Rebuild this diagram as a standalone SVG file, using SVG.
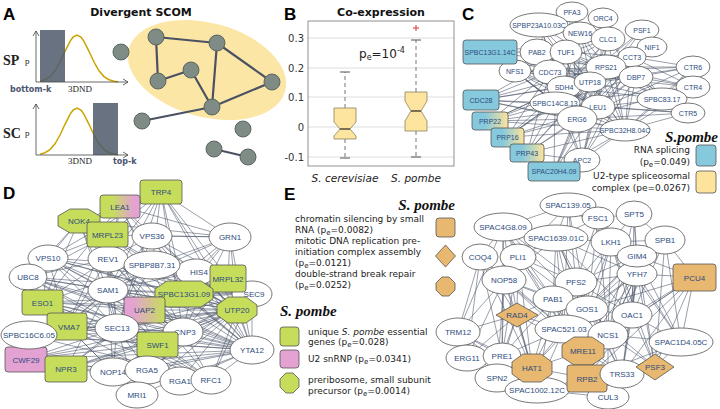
<svg xmlns="http://www.w3.org/2000/svg" width="720" height="409" viewBox="0 0 720 409">
<defs>
<style>
.lbl{font-family:"Liberation Sans",Arial,sans-serif;font-weight:bold;font-size:17px;fill:#000}
.ttl{font-family:"DejaVu Sans",sans-serif;font-weight:bold;font-size:11px;fill:#111;text-anchor:middle}
.ed{fill:none;stroke:#4b566a;stroke-width:.75;stroke-opacity:.75}
.edA{fill:none;stroke:#4a5163;stroke-width:2.2}
.an{fill:#7f8b85;stroke:#5c6660;stroke-width:1}
.el{fill:#fff;stroke:#555;stroke-width:.8}
.bx{stroke:#555;stroke-width:.8}
.bl{fill:#86c9dc}
.gr{fill:#c6dd5c}
.pk{fill:#e3a2d2}
.or{fill:#e8b870}
.ye{fill:#fde39c}
.nt{font-family:"Liberation Sans",Arial,sans-serif;fill:#2d4b7d;text-anchor:middle}
.s7{font-size:7px}
.s8{font-size:8px}
.lg{font-family:"DejaVu Sans",sans-serif;font-size:9px;fill:#222}
.sp{font-family:"Liberation Serif","Times New Roman",serif;font-weight:bold;font-style:italic;font-size:15px;fill:#111}
.ax{font-family:"DejaVu Sans",sans-serif;font-size:10px;fill:#333}
.sr{font-family:"Liberation Serif","Times New Roman",serif;fill:#222}
.kl{font-family:"DejaVu Sans",sans-serif;font-weight:bold;font-size:8px;fill:#4b5670}
.axl{fill:none;stroke:#444;stroke-width:.8}
.cv{fill:none;stroke:#c9a400;stroke-width:1.5}
.bar{fill:#4f596b;fill-opacity:.85}
.grid{stroke:#d4d4d4;stroke-width:.8}
.bp{fill:#fde5a0;stroke:#8a8060;stroke-width:.8}
.wh{stroke:#777;stroke-width:1;stroke-dasharray:4 3}
.cap{stroke:#555;stroke-width:1}
.med{stroke:#4d4d3a;stroke-width:1.6}
</style>
<linearGradient id="gBY" x1="0" y1="0" x2="1" y2="0"><stop offset="0.35" stop-color="#86c9dc"/><stop offset="1" stop-color="#fde39c"/></linearGradient>
<linearGradient id="gGP" x1="0" y1="0" x2="1" y2="0"><stop offset="0.3" stop-color="#c6dd5c"/><stop offset="0.85" stop-color="#e3a2d2"/></linearGradient>
<linearGradient id="gPG" x1="0" y1="0" x2="1" y2="0"><stop offset="0.2" stop-color="#e3a2d2"/><stop offset="1" stop-color="#c6dd5c"/></linearGradient>
</defs>
<rect width="720" height="409" fill="#fff"/>

<!-- Panel labels and titles -->
<text class="lbl" x="3" y="20">A</text>
<text class="lbl" x="284" y="20">B</text>
<text class="lbl" x="462" y="20">C</text>
<text class="lbl" x="3" y="199">D</text>
<text class="lbl" x="284" y="200">E</text>
<text class="ttl" x="141" y="16">Divergent SCOM</text>
<text class="ttl" x="381" y="16">Co-expression</text>

<!-- Panel A charts -->
<g id="chartSP">
<text class="sr" x="3" y="65" font-size="14" font-weight="bold">SP</text>
<text class="sr" x="25" y="64" font-size="9">p</text>
<polyline class="cv" points="40,81.2 45,79.7 50,76.6 55,70.8 60,62 65,51.3 70,41.3 73,37.2 77,35 81,37.2 84,41.3 89,51.3 94,62 99,70.8 104,76.6 109,79.7 114,81.2 118,81.7"/>
<rect class="bar" x="40" y="30" width="25" height="52"/>
<path class="axl" d="M36 82V31M33 36L36 31L39 36M36 82H128M123 79L128 82L123 85"/>
<text class="kl" x="10" y="92">bottom-k</text>
<text class="sr" x="68" y="92" font-size="9">3DND</text>
</g>
<g id="chartSC">
<text class="sr" x="3" y="138" font-size="14" font-weight="bold">SC</text>
<text class="sr" x="25" y="136" font-size="9">p</text>
<polyline class="cv" points="40,154.2 45,152.7 50,149.6 55,143.8 60,135 65,124.3 70,114.3 73,110.2 77,108 81,110.2 84,114.3 89,124.3 94,135 99,143.8 104,149.6 109,152.7 114,154.2 118,154.7"/>
<rect class="bar" x="93" y="103" width="25" height="52"/>
<path class="axl" d="M36 155V104M33 109L36 104L39 109M36 155H128M123 152L128 155L123 158"/>
<text class="sr" x="68" y="164" font-size="9">3DND</text>
<text class="kl" x="113" y="164">top-k</text>
</g>
<ellipse cx="207" cy="70" rx="81" ry="47" transform="rotate(15 207 70)" fill="#fbe6a6"/>

<!-- Panel B -->
<g id="boxplot">
<path class="grid" d="M308 38H454M308 68H454M308 97H454M308 127H454M308 157H454"/>
<rect x="308" y="21" width="146" height="145" fill="none" stroke="#777" stroke-width=".8"/>
<g class="ax" text-anchor="end">
<text x="304" y="42">0.3</text><text x="304" y="72">0.2</text><text x="304" y="101">0.1</text><text x="304" y="131">0</text><text x="304" y="161">-0.1</text>
</g>
<path class="wh" d="M345 108V72M345 139V158M416 92V40M416 131V157"/>
<path class="cap" d="M340 72H350M340 158H350M411 40H421M411 157H421"/>
<path class="bp" d="M334 108H356V122L350 129L356 136V139H334V136L340 129L334 122Z"/>
<path class="bp" d="M405 92H427V101L421 111L427 121V131H405V121L411 111L405 101Z"/>
<path class="med" d="M340 129H350M411 111H421"/>
<path d="M413 28H419M416 25V31" stroke="#e03030" stroke-width="1"/>
<text x="359" y="58" font-family="DejaVu Sans,sans-serif" font-size="12" fill="#222">p<tspan font-size="8" dy="2">e</tspan><tspan dy="-2">=10</tspan><tspan font-size="8" dy="-5">-4</tspan></text>
<text x="345" y="182" font-family="DejaVu Sans,sans-serif" font-size="10.5" font-style="italic" fill="#222" text-anchor="middle">S. cerevisiae</text>
<text x="416" y="182" font-family="DejaVu Sans,sans-serif" font-size="10.5" font-style="italic" fill="#222" text-anchor="middle">S. pombe</text>
</g>

<!-- Connectors -->
<g id="connectors">
<path class="edA" d="M156 37L217 43M156 37L158 81M158 81L191 70M191 70L212 107M217 43L212 107M217 43L272 82M212 107L272 82M142 121L212 107M214 149L248 157"/>
<path class="ed" d="M490 52L566 52M490 52L550 72M490 52L606 67M490 52L564 87M490 52L555 103M490 52L577 119M481 100L550 72M481 100L564 87M481 100L555 103M481 100L577 119M481 100L606 67M481 100L566 52M490 121L550 72M490 121L555 103M490 121L577 119M490 121L564 87M490 121L598 107M507 137L555 103M507 137L577 119M507 137L564 87M507 137L550 72M507 137L598 107M527 153L555 103M527 153L577 119M527 153L598 107M527 153L606 67M527 153L582 160M554 171L577 119M554 171L582 160M554 171L555 103M554 171L598 107M515 71L606 67M515 71L590 82M515 71L555 103M515 71L577 119M515 71L608 39M537 52L606 67M537 52L590 82M537 52L598 107M537 52L577 119M550 72L608 39M550 72L606 67M550 72L598 107M550 72L577 119M550 72L636 77M550 72L625 130M566 52L606 67M566 52L590 82M566 52L598 107M566 52L632 57M566 52L662 99M539 25L550 72M539 25L606 67M539 25L564 87M539 25L566 52M580 33L606 67M580 33L564 87M580 33L555 103M580 33L577 119M608 39L564 87M608 39L555 103M608 39L577 119M608 39L625 130M606 67L577 119M606 67L555 103M606 67L662 99M606 67L625 130M590 82L555 103M590 82L577 119M590 82L625 130M590 82L662 99M564 87L598 107M564 87L636 77M564 87L662 99M555 103L625 130M555 103L636 77M555 103L632 57M598 107L636 77M598 107L632 57M598 107L662 99M577 119L636 77M577 119L632 57M577 119L625 130M636 77L693 67M636 77L693 87M636 77L688 113M632 57L693 67M632 57L693 87M662 99L693 67M662 99L693 87M625 130L693 67M625 130L693 87M625 130L688 113M606 67L693 67M606 67L693 87M598 107L688 113M577 119L688 113M590 82L693 67M555 103L688 113M550 72L693 87M642 30L606 67M642 30L577 119M642 30L555 103M652 47L598 107M652 47L564 87M652 47L577 119M572 12L577 119M572 12L555 103M603 18L606 67M603 18L598 107M582 160L550 72M582 160L606 67M582 160L608 39M582 160L636 77M582 160L632 57"/>
<path class="ed" d="M490 52L598 107M490 52L590 82M490 52L608 39M481 100L598 107M481 100L590 82M481 100L625 130M490 121L606 67M490 121L590 82M490 121L625 130M507 137L606 67M507 137L590 82M507 137L625 130M527 153L590 82M527 153L625 130M527 153L550 72M554 171L625 130M554 171L606 67M554 171L590 82M515 71L598 107M515 71L625 130M537 52L555 103M537 52L636 77M539 25L598 107M539 25L577 119M580 33L598 107M580 33L625 130M608 39L662 99M608 39L636 77M632 57L625 130M632 57L662 99M636 77L662 99M636 77L625 130M662 99L688 113M550 72L693 67M555 103L693 87M577 119L693 67M577 119L693 87M625 130L662 99M582 160L555 103M582 160L598 107M582 160L625 130M582 160L577 119M566 52L555 103M566 52L577 119M566 52L625 130M564 87L625 130M564 87L577 119M550 72L555 103M550 72L564 87M606 67L598 107M606 67L590 82M606 67L636 77M537 52L550 72M515 71L550 72M515 71L564 87"/>
<path class="ed" d="M161 192L79 221M161 192L108 235M161 192L108 259M161 192L152 265M161 192L108 290M161 192L48 258M161 192L230 237M161 192L184 294M161 192L117 328M161 192L228 278M120 206L108 259M120 206L108 290M120 206L230 237M120 206L152 265M120 206L43 302M79 221L48 258M79 221L28 277M79 221L108 290M79 221L108 259M79 221L117 328M79 221L43 302M79 221L230 237M108 235L48 258M108 235L108 290M108 235L230 237M108 235L28 277M108 235L117 328M108 235L67 326M152 236L108 259M152 236L230 237M152 236L108 290M152 236L117 328M152 236L228 278M152 236L184 294M48 258L108 290M48 258L117 328M48 258L152 265M48 258L184 294M48 258L43 302M48 258L67 326M108 259L108 290M108 259L117 328M108 259L184 294M108 259L43 302M108 259L67 326M108 259L183 332M108 259L28 277M152 265L108 290M152 265L117 328M152 265L67 326M152 265L43 302M152 265L230 237M152 265L252 294M196 272L230 237M196 272L108 290M196 272L117 328M196 272L252 294M230 237L228 278M230 237L108 290M230 237L117 328M230 237L184 294M230 237L237 310M230 237L252 350M230 237L183 332M28 277L108 290M28 277L117 328M28 277L67 326M28 277L157 344M28 277L145 310M108 290L117 328M108 290L157 344M108 290L67 326M108 290L183 332M108 290L184 294M108 290L66 369M108 290L113 372M184 294L117 328M184 294L237 310M184 294L252 294M184 294L252 350M228 278L117 328M228 278L237 310M228 278L252 350M228 278L183 332M252 294L252 350M252 294L183 332M237 310L183 332M237 310L252 350M237 310L211 380M43 302L117 328M43 302L157 344M43 302L145 310M43 302L113 372M145 310L183 332M145 310L252 350M145 310L237 310M145 310L117 328M67 326L117 328M67 326L157 344M67 326L113 372M67 326L147 370M67 326L183 332M28 335L117 328M28 335L157 344M28 335L108 290M28 335L145 310M117 328L183 332M117 328L113 372M117 328L147 370M117 328L180 381M117 328L211 380M117 328L252 350M117 328L237 310M183 332L252 350M183 332L211 380M183 332L113 372M157 344L252 350M157 344L237 310M157 344L211 380M26 359L117 328M26 359L157 344M26 359L108 290M66 369L117 328M66 369L183 332M66 369L157 344M66 369L147 370M66 369L145 310M113 372L252 350M113 372L157 344M147 370L252 350M147 370L237 310M180 381L252 350M137 395L183 332M137 395L117 328M211 380L252 350M211 380L252 294M48 258L183 332M28 277L183 332M79 221L157 344M108 235L145 310M161 192L252 350M152 236L252 350M120 206L237 310"/>
<path class="ed" d="M79 221L183 332M79 221L237 310M48 258L237 310M48 258L252 350M28 277L237 310M28 277L252 350M43 302L237 310M43 302L252 350M43 302L183 332M28 335L237 310M28 335L183 332M28 335L252 350M26 359L183 332M26 359L252 350M26 359L237 310M66 369L252 350M66 369L237 310M67 326L237 310M67 326L252 350M108 290L237 310M108 290L252 350M108 290L252 294M108 259L237 310M108 259L252 350M152 265L237 310M152 265L252 350M108 235L237 310M108 235L183 332M48 258L252 294M28 277L252 294M43 302L252 294M120 206L183 332M161 192L183 332M161 192L237 310M152 236L237 310M196 272L237 310M196 272L183 332M196 272L252 350M117 328L252 294M157 344L252 294M113 372L237 310M147 370L252 294M180 381L237 310M137 395L237 310M137 395L252 350M113 372L211 380M67 326L211 380M66 369L211 380M26 359L211 380M43 302L211 380M28 335L211 380M48 258L211 380M79 221L211 380M108 235L252 350M120 206L252 350"/>
<path class="ed" d="M568 205L556 238M568 205L611 242M568 205L503 227M568 205L598 218M568 205L518 257M568 205L576 282M598 218L556 238M598 218L611 242M598 218L634 214M598 218L637 256M598 218L576 282M634 214L611 242M634 214L665 240M634 214L637 256M634 214L637 274M503 227L518 257M503 227L480 257M503 227L504 280M503 227L576 282M503 227L553 299M503 227L517 315M556 238L518 257M556 238L504 280M556 238L576 282M556 238L553 299M556 238L611 242M556 238L587 309M556 238L637 274M556 238L564 329M611 242L637 256M611 242L637 274M611 242L576 282M611 242L587 309M611 242L564 329M611 242L608 335M611 242L665 240M665 240L637 256M665 240L637 274M665 240L694 277M665 240L632 315M665 240L681 342M480 257L504 280M480 257L458 332M480 257L517 315M480 257L502 356M518 257L504 280M518 257L576 282M518 257L553 299M518 257L517 315M518 257L564 329M518 257L502 356M637 256L694 277M637 256L576 282M637 256L587 309M637 256L632 315M637 256L608 335M637 256L681 342M637 256L564 329M637 274L694 277M637 274L587 309M637 274L632 315M637 274L608 335M637 274L681 342M637 274L655 367M637 274L576 282M637 274L564 329M637 274L583 351M694 277L632 315M694 277L681 342M694 277L655 367M694 277L608 335M694 277L622 374M694 277L587 309M504 280L517 315M504 280L553 299M504 280L458 332M504 280L502 356M504 280L564 329M504 280L587 309M504 280L467 358M576 282L553 299M576 282L587 309M576 282L564 329M576 282L608 335M576 282L583 351M576 282L632 315M576 282L587 378M553 299L517 315M553 299L564 329M553 299L502 356M553 299L532 368M553 299L587 309M587 309L564 329M587 309L608 335M587 309L583 351M587 309L632 315M587 309L587 378M587 309L622 374M517 315L458 332M517 315L502 356M517 315L564 329M517 315L532 368M517 315L467 358M517 315L497 378M632 315L608 335M632 315L681 342M632 315L655 367M632 315L583 351M632 315L622 374M458 332L467 358M458 332L502 356M458 332L497 378M458 332L532 368M564 329L608 335M564 329L502 356M564 329L583 351M564 329L532 368M564 329L587 378M564 329L537 390M608 335L583 351M608 335L655 367M608 335L587 378M608 335L622 374M608 335L681 342M681 342L655 367M681 342L622 374M467 358L502 356M467 358L497 378M502 356L532 368M502 356L497 378M502 356L537 390M583 351L532 368M583 351L587 378M583 351L622 374M532 368L497 378M532 368L537 390M532 368L587 378M655 367L622 374M655 367L587 378M587 378L622 374M587 378L608 397M587 378L537 390M622 374L608 397M537 390L608 397"/>
<path class="ed" d="M503 227L564 329M503 227L587 309M503 227L502 356M503 227L458 332M480 257L532 368M480 257L467 358M480 257L564 329M518 257L532 368M518 257L587 309M504 280L532 368M504 280L497 378M504 280L583 351M556 238L583 351M556 238L632 315M556 238L608 335M611 242L632 315M611 242L583 351M611 242L681 342M611 242L655 367M637 256L655 367M637 256L583 351M637 256L622 374M637 274L622 374M637 274L587 378M694 277L583 351M694 277L587 378M665 240L655 367M665 240L608 335M665 240L587 309M634 214L632 315M634 214L608 335M568 205L587 309M568 205L564 329M598 218L587 309M598 218L608 335M576 282L622 374M576 282L532 368M553 299L583 351M553 299L587 378M553 299L537 390M587 309L655 367M587 309L532 368M517 315L537 390M517 315L583 351M458 332L537 390M608 335L608 397M583 351L608 397M632 315L587 378M564 329L622 374M681 342L587 378"/>
</g>

<!-- Panel A network nodes -->
<g id="A-nodes">
<circle class="an" cx="156" cy="37" r="8"/>
<circle class="an" cx="217" cy="43" r="8"/>
<circle class="an" cx="121" cy="52" r="8"/>
<circle class="an" cx="191" cy="70" r="8"/>
<circle class="an" cx="158" cy="81" r="8"/>
<circle class="an" cx="212" cy="107" r="8"/>
<circle class="an" cx="142" cy="121" r="8"/>
<circle class="an" cx="214" cy="149" r="8"/>
<circle class="an" cx="272" cy="82" r="8"/>
<circle class="an" cx="243" cy="129" r="8"/>
<circle class="an" cx="248" cy="157" r="8"/>
</g>

<!-- Panel C nodes -->
<g id="C-PFA3"><ellipse class="el" cx="572" cy="12" rx="16" ry="10"/><text class="nt s7" x="572" y="14.5">PFA3</text></g>
<g id="C-ORC4"><ellipse class="el" cx="603" cy="18" rx="15" ry="10"/><text class="nt s7" x="603" y="20.5">ORC4</text></g>
<g id="C-SPBP23A10.03C"><ellipse class="el" cx="539" cy="25" rx="29" ry="12"/><text class="nt s7" x="539" y="27.5">SPBP23A10.03C</text></g>
<g id="C-NEW16"><ellipse class="el" cx="580" cy="33" rx="17" ry="11"/><text class="nt s7" x="580" y="35.5">NEW16</text></g>
<g id="C-PSF1"><ellipse class="el" cx="642" cy="30" rx="17" ry="10"/><text class="nt s7" x="642" y="32.5">PSF1</text></g>
<g id="C-CLC1"><ellipse class="el" cx="608" cy="39" rx="17" ry="12"/><text class="nt s7" x="608" y="41.5">CLC1</text></g>
<g id="C-NIF1"><ellipse class="el" cx="652" cy="47" rx="15" ry="10"/><text class="nt s7" x="652" y="49.5">NIF1</text></g>
<g id="C-PAB2"><ellipse class="el" cx="537" cy="52" rx="17" ry="13"/><text class="nt s7" x="537" y="54.5">PAB2</text></g>
<g id="C-TUF1"><ellipse class="el" cx="566" cy="52" rx="16" ry="12"/><text class="nt s7" x="566" y="54.5">TUF1</text></g>
<g id="C-CCT3"><ellipse class="el" cx="632" cy="57" rx="14" ry="10"/><text class="nt s7" x="632" y="59.5">CCT3</text></g>
<g id="C-CTR6"><ellipse class="el" cx="693" cy="67" rx="17" ry="11"/><text class="nt s7" x="693" y="69.5">CTR6</text></g>
<g id="C-NFS1"><ellipse class="el" cx="515" cy="71" rx="16" ry="11"/><text class="nt s7" x="515" y="73.5">NFS1</text></g>
<g id="C-CDC73"><ellipse class="el" cx="550" cy="72" rx="17" ry="12"/><text class="nt s7" x="550" y="74.5">CDC73</text></g>
<g id="C-RPS21"><ellipse class="el" cx="606" cy="67" rx="20" ry="12"/><text class="nt s7" x="606" y="69.5">RPS21</text></g>
<g id="C-DBP7"><ellipse class="el" cx="636" cy="77" rx="17" ry="11"/><text class="nt s7" x="636" y="79.5">DBP7</text></g>
<g id="C-SDH4"><ellipse class="el" cx="564" cy="87" rx="17" ry="11"/><text class="nt s7" x="564" y="89.5">SDH4</text></g>
<g id="C-UTP18"><ellipse class="el" cx="590" cy="82" rx="16" ry="10"/><text class="nt s7" x="590" y="84.5">UTP18</text></g>
<g id="C-CTR4"><ellipse class="el" cx="693" cy="87" rx="17" ry="11"/><text class="nt s7" x="693" y="89.5">CTR4</text></g>
<g id="C-SPBC83.17"><ellipse class="el" cx="662" cy="99" rx="25" ry="11"/><text class="nt s7" x="662" y="101.5">SPBC83.17</text></g>
<g id="C-SPBC14C8.13"><ellipse class="el" cx="555" cy="103" rx="25" ry="11"/><text class="nt s7" x="555" y="105.5">SPBC14C8.13</text></g>
<g id="C-LEU1"><ellipse class="el" cx="598" cy="107" rx="17" ry="12"/><text class="nt s7" x="598" y="109.5">LEU1</text></g>
<g id="C-CTR5"><ellipse class="el" cx="688" cy="113" rx="17" ry="10"/><text class="nt s7" x="688" y="115.5">CTR5</text></g>
<g id="C-ERG6"><ellipse class="el" cx="577" cy="119" rx="20" ry="13"/><text class="nt s7" x="577" y="121.5">ERG6</text></g>
<g id="C-SPBC32H8.04C"><ellipse class="el" cx="625" cy="130" rx="25" ry="11"/><text class="nt s7" x="625" y="132.5">SPBC32H8.04C</text></g>
<g id="C-APC2"><ellipse class="el" cx="582" cy="160" rx="18" ry="12"/><text class="nt s7" x="582" y="162.5">APC2</text></g>
<g id="C-SPBC13G1.14C"><rect class="bx bl" x="463" y="40" width="54" height="24" rx="3"/><text class="nt s7" x="490" y="54.5">SPBC13G1.14C</text></g>
<g id="C-CDC28"><rect class="bx bl" x="463" y="90" width="36" height="20" rx="3"/><text class="nt s7" x="481" y="102.5">CDC28</text></g>
<g id="C-PRP22"><rect class="bx" fill="url(#gBY)" x="472" y="112" width="36" height="18" rx="3"/><text class="nt s7" x="490" y="123.5">PRP22</text></g>
<g id="C-PRP16"><rect class="bx" fill="url(#gBY)" x="491" y="128" width="33" height="19" rx="3"/><text class="nt s7" x="507.5" y="140">PRP16</text></g>
<g id="C-PRP43"><rect class="bx" fill="url(#gBY)" x="510" y="144" width="34" height="18" rx="3"/><text class="nt s7" x="527" y="155.5">PRP43</text></g>
<g id="C-SPAC20H4.09"><rect class="bx bl" x="528" y="162" width="52" height="19" rx="3"/><text class="nt s7" x="554" y="174">SPAC20H4.09</text></g>
<g id="C-legend">
<text class="sp" x="718" y="142" text-anchor="end">S.pombe</text>
<text class="lg" x="690" y="153" text-anchor="end">RNA splicing</text>
<text class="lg" x="690" y="165" text-anchor="end">(p<tspan font-size="7" dy="2">e</tspan><tspan dy="-2">=0.049)</tspan></text>
<rect class="bx bl" x="696" y="145" width="20" height="21" rx="3"/>
<text class="lg" x="690" y="179" text-anchor="end">U2-type spliceosomal</text>
<text class="lg" x="690" y="191" text-anchor="end">complex (pe=0.0267)</text>
<rect class="bx ye" x="696" y="171" width="20" height="22" rx="3"/>
</g>

<!-- Panel D nodes -->
<g id="D-VPS36"><ellipse class="el" cx="152" cy="236" rx="20" ry="13"/><text class="nt s8" x="152" y="239">VPS36</text></g>
<g id="D-GRN1"><ellipse class="el" cx="230" cy="237" rx="21" ry="14"/><text class="nt s8" x="230" y="240">GRN1</text></g>
<g id="D-VPS10"><ellipse class="el" cx="48" cy="258" rx="20" ry="13"/><text class="nt s8" x="48" y="261">VPS10</text></g>
<g id="D-REV1"><ellipse class="el" cx="108" cy="259" rx="20" ry="13"/><text class="nt s8" x="108" y="262">REV1</text></g>
<g id="D-HIS4"><ellipse class="el" cx="196" cy="272" rx="20" ry="13"/><text class="nt s8" x="199" y="275">HIS4</text></g>
<g id="D-SPBP8B7.31"><ellipse class="el" cx="152" cy="265" rx="28" ry="14"/><text class="nt s8" x="152" y="268">SPBP8B7.31</text></g>
<g id="D-UBC8"><ellipse class="el" cx="28" cy="277" rx="19" ry="13"/><text class="nt s8" x="28" y="280">UBC8</text></g>
<g id="D-SAM1"><ellipse class="el" cx="108" cy="290" rx="20" ry="13"/><text class="nt s8" x="108" y="293">SAM1</text></g>
<g id="D-SEC9"><ellipse class="el" cx="252" cy="294" rx="20" ry="13"/><text class="nt s8" x="254" y="297">SEC9</text></g>
<g id="D-MRPL32"><rect class="bx gr" x="210" y="265" width="36" height="27" rx="3"/><text class="nt s8" x="228" y="281.5">MRPL32</text></g>
<g id="D-SPBC13G1.09"><polygon class="bx gr" points="167,281 201,281 213,289 213,299 201,307 167,307 155,299 155,289"/><text class="nt s8" x="184" y="297">SPBC13G1.09</text></g>
<g id="D-UTP20"><polygon class="bx gr" points="228,297 246,297 257,305 257,315 246,323 228,323 217,315 217,305"/><text class="nt s8" x="237" y="313">UTP20</text></g>
<g id="D-TRP4"><rect class="bx gr" x="140" y="180" width="42" height="24" rx="3"/><text class="nt s8" x="161" y="195">TRP4</text></g>
<g id="D-LEA1"><rect class="bx" fill="url(#gGP)" x="100" y="195" width="40" height="23" rx="3"/><text class="nt s8" x="120" y="209.5">LEA1</text></g>
<g id="D-NOK4"><polygon class="bx gr" points="70,209 88,209 100,216 100,226 88,233 70,233 58,226 58,216"/><text class="nt s8" x="79" y="224">NOK4</text></g>
<g id="D-MRPL23"><rect class="bx gr" x="87" y="222" width="41" height="25" rx="3"/><text class="nt s8" x="107.5" y="237.5">MRPL23</text></g>
<g id="D-ESO1"><rect class="bx gr" x="22" y="290" width="41" height="25" rx="3"/><text class="nt s8" x="42.5" y="305.5">ESO1</text></g>
<g id="D-UAP2"><rect class="bx" fill="url(#gPG)" x="124" y="297" width="41" height="26" rx="3"/><text class="nt s8" x="144.5" y="313">UAP2</text></g>
<g id="D-VMA7"><rect class="bx gr" x="47" y="313" width="40" height="27" rx="3"/><text class="nt s8" x="69" y="329.5">VMA7</text></g>
<g id="D-CWF29"><rect class="bx pk" x="5" y="347" width="42" height="25" rx="3"/><text class="nt s8" x="26" y="362.5">CWF29</text></g>
<g id="D-SPBC16C6.05"><ellipse class="el" cx="29" cy="335" rx="28" ry="14"/><text class="nt s8" x="29" y="338">SPBC16C6.05</text></g>
<g id="D-SEC13"><ellipse class="el" cx="117" cy="328" rx="22" ry="14"/><text class="nt s8" x="117" y="331">SEC13</text></g>
<g id="D-CNP3"><ellipse class="el" cx="183" cy="332" rx="20" ry="14"/><text class="nt s8" x="185" y="335">CNP3</text></g>
<g id="D-YTA12"><ellipse class="el" cx="252" cy="350" rx="22" ry="14"/><text class="nt s8" x="252" y="353">YTA12</text></g>
<g id="D-SWF1"><rect class="bx gr" x="137" y="332" width="41" height="25" rx="3"/><text class="nt s8" x="157.5" y="347.5">SWF1</text></g>
<g id="D-NPR3"><rect class="bx gr" x="45" y="356" width="42" height="26" rx="3"/><text class="nt s8" x="66" y="372">NPR3</text></g>
<g id="D-NOP14"><ellipse class="el" cx="113" cy="372" rx="23" ry="14"/><text class="nt s8" x="113" y="375">NOP14</text></g>
<g id="D-RGA5"><ellipse class="el" cx="147" cy="370" rx="22" ry="14"/><text class="nt s8" x="147" y="373">RGA5</text></g>
<g id="D-RGA1"><ellipse class="el" cx="180" cy="381" rx="20" ry="14"/><text class="nt s8" x="180" y="384">RGA1</text></g>
<g id="D-RFC1"><ellipse class="el" cx="211" cy="380" rx="20" ry="14"/><text class="nt s8" x="211" y="383">RFC1</text></g>
<g id="D-MRI1"><ellipse class="el" cx="137" cy="395" rx="21" ry="13"/><text class="nt s8" x="137" y="398">MRI1</text></g>
<g id="D-legend">
<text class="sp" x="280" y="316">S. pombe</text>
<rect class="bx gr" x="280" y="327" width="19" height="19" rx="3"/>
<text class="lg" x="308" y="335">unique <tspan font-style="italic">S. pombe</tspan> essential</text>
<text class="lg" x="308" y="345">genes (p<tspan font-size="7" dy="2">e</tspan><tspan dy="-2">=0.028)</tspan></text>
<rect class="bx pk" x="280" y="350" width="19" height="18" rx="3"/>
<text class="lg" x="308" y="362">U2 snRNP (p<tspan font-size="7" dy="2">e</tspan><tspan dy="-2">=0.0341)</tspan></text>
<polygon class="bx gr" points="286,373 293,373 299,379 299,387 293,393 286,393 280,387 280,379"/>
<text class="lg" x="308" y="383">preribosome, small subunit</text>
<text class="lg" x="308" y="394">precursor (p<tspan font-size="7" dy="2">e</tspan><tspan dy="-2">=0.0014)</tspan></text>
</g>

<!-- Panel E nodes -->
<g id="E-SPAC139.05"><ellipse class="el" cx="568" cy="205" rx="28" ry="12"/><text class="nt s8" x="568" y="208">SPAC139.05</text></g>
<g id="E-FSC1"><ellipse class="el" cx="598" cy="218" rx="16" ry="11"/><text class="nt s8" x="598" y="221">FSC1</text></g>
<g id="E-SPT5"><ellipse class="el" cx="634" cy="214" rx="18" ry="13"/><text class="nt s8" x="634" y="217">SPT5</text></g>
<g id="E-SPAC4G8.09"><ellipse class="el" cx="503" cy="227" rx="29" ry="14"/><text class="nt s8" x="503" y="230">SPAC4G8.09</text></g>
<g id="E-SPAC1639.01C"><ellipse class="el" cx="556" cy="238" rx="32" ry="13"/><text class="nt s8" x="556" y="241">SPAC1639.01C</text></g>
<g id="E-LKH1"><ellipse class="el" cx="611" cy="242" rx="20" ry="14"/><text class="nt s8" x="611" y="245">LKH1</text></g>
<g id="E-SPB1"><ellipse class="el" cx="665" cy="240" rx="20" ry="14"/><text class="nt s8" x="665" y="243">SPB1</text></g>
<g id="E-COQ4"><ellipse class="el" cx="480" cy="257" rx="18" ry="13"/><text class="nt s8" x="480" y="260">COQ4</text></g>
<g id="E-PLI1"><ellipse class="el" cx="518" cy="257" rx="18" ry="13"/><text class="nt s8" x="518" y="260">PLI1</text></g>
<g id="E-YFH7"><ellipse class="el" cx="637" cy="274" rx="20" ry="12"/><text class="nt s8" x="637" y="277">YFH7</text></g>
<g id="E-GIM4"><ellipse class="el" cx="637" cy="256" rx="20" ry="11"/><text class="nt s8" x="637" y="259">GIM4</text></g>
<g id="E-PCU4"><rect class="bx or" x="673" y="264" width="43" height="27" rx="3"/><text class="nt s8" x="694.5" y="280.5">PCU4</text></g>
<g id="E-NOP58"><ellipse class="el" cx="504" cy="280" rx="22" ry="14"/><text class="nt s8" x="504" y="283">NOP58</text></g>
<g id="E-PFS2"><ellipse class="el" cx="576" cy="282" rx="21" ry="14"/><text class="nt s8" x="576" y="285">PFS2</text></g>
<g id="E-PAB1"><ellipse class="el" cx="553" cy="299" rx="20" ry="13"/><text class="nt s8" x="553" y="302">PAB1</text></g>
<g id="E-GOS1"><ellipse class="el" cx="587" cy="309" rx="21" ry="13"/><text class="nt s8" x="587" y="312">GOS1</text></g>
<g id="E-OAC1"><ellipse class="el" cx="632" cy="315" rx="20" ry="13"/><text class="nt s8" x="632" y="318">OAC1</text></g>
<g id="E-RAD4"><polygon class="bx or" points="517,303 538,315 517,327 496,315"/><text class="nt s8" x="517" y="318">RAD4</text></g>
<g id="E-TRM12"><ellipse class="el" cx="458" cy="332" rx="22" ry="14"/><text class="nt s8" x="458" y="335">TRM12</text></g>
<g id="E-SPAC521.03"><ellipse class="el" cx="564" cy="329" rx="29" ry="14"/><text class="nt s8" x="564" y="332">SPAC521.03</text></g>
<g id="E-NCS1"><ellipse class="el" cx="608" cy="335" rx="20" ry="14"/><text class="nt s8" x="608" y="338">NCS1</text></g>
<g id="E-SPAC1D4.05C"><ellipse class="el" cx="681" cy="342" rx="32" ry="14"/><text class="nt s8" x="681" y="345">SPAC1D4.05C</text></g>
<g id="E-ERG11"><ellipse class="el" cx="467" cy="358" rx="21" ry="13"/><text class="nt s8" x="467" y="361">ERG11</text></g>
<g id="E-PRE1"><ellipse class="el" cx="502" cy="356" rx="19" ry="13"/><text class="nt s8" x="502" y="359">PRE1</text></g>
<g id="E-SPN2"><ellipse class="el" cx="497" cy="378" rx="22" ry="14"/><text class="nt s8" x="497" y="381">SPN2</text></g>
<g id="E-SPAC1002.12C"><ellipse class="el" cx="537" cy="390" rx="32" ry="13"/><text class="nt s8" x="537" y="393">SPAC1002.12C</text></g>
<g id="E-CUL3"><ellipse class="el" cx="608" cy="397" rx="21" ry="12"/><text class="nt s8" x="608" y="400">CUL3</text></g>
<g id="E-MRE11"><polygon class="bx or" points="574,337 592,337 604,345 604,357 592,365 574,365 562,357 562,345"/><text class="nt s8" x="583" y="354">MRE11</text></g>
<g id="E-HAT1"><polygon class="bx or" points="523,354 541,354 552,362 552,374 541,382 523,382 512,374 512,362"/><text class="nt s8" x="532" y="371">HAT1</text></g>
<g id="E-RPB2"><rect class="bx or" x="567" y="365" width="40" height="27" rx="3"/><text class="nt s8" x="587" y="381.5">RPB2</text></g>
<g id="E-TRS33"><ellipse class="el" cx="622" cy="374" rx="22" ry="14"/><text class="nt s8" x="622" y="377">TRS33</text></g>
<g id="E-PSF3"><polygon class="bx or" points="655,354 674,367 655,380 636,367"/><text class="nt s8" x="655" y="370">PSF3</text></g>
<g id="E-legend">
<text class="sp" x="455" y="210" text-anchor="end">S. pombe</text>
<text class="lg" x="295" y="222">chromatin silencing by small</text>
<text class="lg" x="295" y="233">RNA (p<tspan font-size="7" dy="2">e</tspan><tspan dy="-2">=0.0082)</tspan></text>
<text class="lg" x="295" y="244">mitotic DNA replication pre-</text>
<text class="lg" x="295" y="255">initiation complex assembly</text>
<text class="lg" x="295" y="266">(p<tspan font-size="7" dy="2">e</tspan><tspan dy="-2">=0.0121)</tspan></text>
<text class="lg" x="295" y="277">double-strand break repair</text>
<text class="lg" x="295" y="288">(p<tspan font-size="7" dy="2">e</tspan><tspan dy="-2">=0.0252)</tspan></text>
<rect class="bx or" x="436" y="218" width="19" height="19" rx="3"/>
<polygon class="bx or" points="445.5,245 455.5,256 445.5,267 435.5,256"/>
<polygon class="bx or" points="442,277 449,277 455,283 455,290 449,296 442,296 436,290 436,283"/>
</g>
</svg>
